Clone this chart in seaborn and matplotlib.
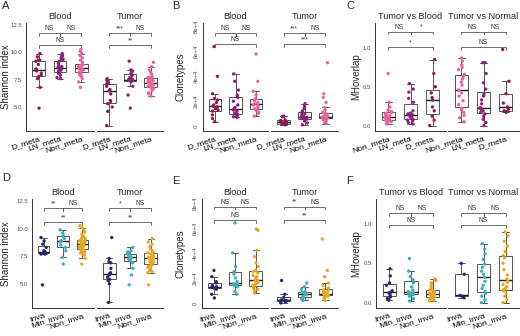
"""Diversity / clonotype / MH overlap boxplots by metastasis and invasion group."""

import matplotlib
matplotlib.use("Agg")
import matplotlib.pyplot as plt
import numpy as np
import pandas as pd
import seaborn as sns

META = ["D_meta", "LN_meta", "Non_meta"]
META_C = ["Non_meta", "LN_meta", "D_meta"]
INVA = ["Inva", "Min_inva", "Non_inva"]

META_COLORS = {"D_meta": "#8c1c4f", "LN_meta": "#8e1f80", "Non_meta": "#e8649a"}
INVA_COLORS = {"Inva": "#26286f", "Min_inva": "#3bafba", "Non_inva": "#e5a823"}

# ---- panel A: Shannon index by metastasis
a_blood = {
    "D_meta": [4.9, 6.8, 7.6, 7.8, 7.9, 8.1, 8.3, 8.4, 8.5, 8.9, 9.2, 9.3, 9.3, 9.6, 9.9],
    "LN_meta": [7.6, 7.7, 7.9, 8.1, 8.2, 8.3, 8.4, 8.5, 8.6, 8.6, 8.7, 8.8, 9.0, 9.2, 9.3, 9.4, 9.5, 9.7, 9.9],
    "Non_meta": [6.8, 7.3, 7.6, 7.8, 7.9, 8.0, 8.1, 8.1, 8.2, 8.2, 8.3, 8.4, 8.4, 8.5, 8.5, 8.6, 8.6,
                 8.6, 8.7, 8.7, 8.8, 8.8, 8.9, 8.9, 9.0, 9.1, 9.3, 9.5, 9.7, 9.9, 10.1, 10.3],
}
a_tumor = {
    "D_meta": [3.3, 4.6, 5.0, 5.3, 5.5, 5.6, 6.2, 6.5, 6.6, 6.9, 7.1, 7.2, 7.4, 7.5, 7.6],
    "LN_meta": [4.9, 6.1, 6.9, 7.3, 7.4, 7.4, 7.5, 7.5, 7.5, 7.6, 7.7, 7.9, 8.0, 8.1, 8.3, 8.4, 9.2],
    "Non_meta": [6.0, 6.2, 6.3, 6.5, 6.6, 6.7, 6.7, 6.8, 6.9, 7.0, 7.0, 7.1, 7.2, 7.2, 7.2, 7.3, 7.3,
                 7.4, 7.5, 7.5, 7.6, 7.7, 7.7, 7.8, 8.0, 8.2, 8.4, 8.7, 9.1],
}

# ---- panel B: clonetypes by metastasis
b_blood = {
    "D_meta": [3500, 6000, 9000, 12000, 13000, 14000, 15500, 16000, 17000, 19000, 21000, 22000, 26000, 40000, 64000],
    "LN_meta": [7000, 7500, 8000, 9000, 10000, 10500, 12000, 13000, 14000, 15000, 17000, 20000, 23000,
                25000, 29000, 36000, 42000],
    "Non_meta": [8000, 10000, 11000, 12500, 13000, 14000, 15000, 16000, 17000, 17500, 18000, 19000, 20000,
                 21000, 22000, 25000, 28000, 36000, 58000],
}
b_tumor = {
    "D_meta": [1000, 1500, 2000, 2000, 2500, 3000, 3000, 3500, 4000, 4500, 5000, 7500, 8000],
    "LN_meta": [1000, 2500, 4000, 5500, 6000, 6500, 7000, 7000, 7500, 8000, 9000, 10000, 11000, 12000,
                14000, 16000, 18000],
    "Non_meta": [2000, 3000, 4000, 5000, 5500, 6000, 6000, 6500, 6500, 7000, 7000, 7000, 7500, 7500, 8000,
                 8500, 9000, 9500, 10000, 11000, 13000, 15000, 19000, 23000, 26000, 51000],
}

# ---- panel C: MH overlap by metastasis
c_tvb = {
    "Non_meta": [0.02, 0.04, 0.05, 0.06, 0.07, 0.07, 0.08, 0.09, 0.10, 0.10, 0.11, 0.12, 0.13, 0.15, 0.16,
                 0.17, 0.18, 0.20, 0.24, 0.30, 0.67],
    "LN_meta": [0.02, 0.04, 0.06, 0.07, 0.08, 0.10, 0.11, 0.12, 0.13, 0.14, 0.15, 0.16, 0.19, 0.30, 0.35,
                0.43, 0.47, 0.54],
    "D_meta": [0.0, 0.07, 0.12, 0.19, 0.24, 0.33, 0.36, 0.42, 0.50, 0.67, 0.85],
}
c_tvn = {
    "Non_meta": [0.05, 0.10, 0.13, 0.17, 0.20, 0.22, 0.27, 0.32, 0.38, 0.42, 0.45, 0.46, 0.52, 0.56, 0.60,
                 0.63, 0.66, 0.72, 0.75, 0.78, 0.83, 0.87],
    "LN_meta": [0.0, 0.04, 0.08, 0.12, 0.15, 0.17, 0.19, 0.21, 0.22, 0.23, 0.28, 0.33, 0.38, 0.40, 0.47,
                0.55, 0.67, 0.81, 0.81],
    "D_meta": [0.17, 0.18, 0.19, 0.21, 0.24, 0.29, 0.41, 0.57, 0.98],
}

# ---- panel D: Shannon index by invasion
d_blood = {
    "Inva": [4.9, 7.7, 7.7, 7.8, 7.8, 7.9, 8.0, 8.3, 8.6, 8.9, 9.2],
    "Min_inva": [6.8, 7.4, 8.0, 8.3, 8.5, 8.8, 8.9, 8.9, 9.1, 9.3, 9.4, 9.6, 9.9],
    "Non_inva": [6.8, 7.3, 7.6, 7.7, 7.8, 7.9, 8.0, 8.1, 8.1, 8.2, 8.2, 8.3, 8.3, 8.4, 8.4, 8.5, 8.5, 8.6,
                 8.6, 8.6, 8.7, 8.7, 8.8, 8.8, 8.9, 8.9, 9.0, 9.0, 9.1, 9.2, 9.3, 9.5, 9.7, 9.9, 10.1, 10.3],
}
d_tumor = {
    "Inva": [3.3, 5.0, 5.3, 5.4, 5.6, 5.8, 5.9, 6.0, 6.4, 6.9, 7.0, 7.3, 9.2],
    "Min_inva": [4.9, 5.8, 6.4, 6.9, 7.1, 7.2, 7.3, 7.4, 7.4, 7.5, 7.6, 7.7, 7.8, 7.9, 8.0, 8.3],
    "Non_inva": [4.9, 6.0, 6.1, 6.2, 6.4, 6.5, 6.6, 6.7, 6.8, 6.9, 7.0, 7.0, 7.1, 7.2, 7.2, 7.3, 7.3, 7.4,
                 7.4, 7.5, 7.5, 7.6, 7.7, 7.8, 7.8, 7.9, 8.0, 8.2, 8.4, 8.6, 8.8, 9.1],
}

# ---- panel E: clonetypes by invasion
e_blood = {
    "Inva": [4000, 7000, 11000, 12000, 12500, 13000, 13000, 14000, 16000, 17000, 21000, 26000],
    "Min_inva": [7000, 9000, 13000, 14000, 14500, 15000, 15500, 17000, 20000, 23000, 25000, 29000, 40000, 64000],
    "Non_inva": [8000, 9000, 10000, 11000, 12000, 13000, 13000, 14000, 15000, 16000, 17000, 17500, 18000,
                 18000, 19000, 20000, 21000, 22000, 24000, 25000, 26000, 29000, 32000, 37000, 42000, 58000, 59000],
}
e_tumor = {
    "Inva": [0, 1000, 1500, 2000, 2000, 2500, 4500, 7000, 18000],
    "Min_inva": [2000, 3000, 4000, 4000, 5500, 6500, 7000, 7000, 7500, 8000, 8500, 9000, 11000, 13000, 16000],
    "Non_inva": [2000, 3000, 4000, 5000, 5500, 6000, 6000, 6500, 6500, 7000, 7000, 7000, 7500, 8000, 8500,
                 9000, 10000, 10500, 12000, 14000, 16000, 21000, 26000, 51000],
}

# ---- panel F: MH overlap by invasion
f_tvb = {
    "Inva": [0.03, 0.05, 0.07, 0.09, 0.12, 0.13, 0.15, 0.22, 0.25, 0.34, 0.43],
    "Min_inva": [0.02, 0.05, 0.08, 0.10, 0.11, 0.12, 0.13, 0.14, 0.16, 0.20, 0.25, 0.29, 0.33, 0.40, 0.56],
    "Non_inva": [0.02, 0.03, 0.04, 0.05, 0.06, 0.06, 0.07, 0.08, 0.09, 0.10, 0.10, 0.11, 0.11, 0.12, 0.13,
                 0.14, 0.15, 0.16, 0.17, 0.19, 0.22, 0.25, 0.28, 0.30],
}
f_tvn = {
    "Inva": [0.06, 0.08, 0.09, 0.36, 0.50],
    "Min_inva": [0.0, 0.03, 0.08, 0.12, 0.14, 0.18, 0.22, 0.27, 0.32, 0.36, 0.40, 0.45, 0.49, 0.55, 0.62,
                 0.68, 0.75],
    "Non_inva": [0.0, 0.04, 0.08, 0.12, 0.15, 0.16, 0.18, 0.20, 0.23, 0.26, 0.27, 0.30, 0.35, 0.42, 0.50,
                 0.57, 0.60, 0.65, 0.72, 0.78, 0.85, 0.90],
}

# significance labels: (1-2, 2-3, 1-3)
sig_a = [["NS", "NS", "NS"], ["***", "NS", "**"]]
sig_b = [["NS", "NS", "NS"], ["***", "NS", "***"]]
sig_c = [["NS", "*", "*"], ["NS", "NS", "NS"]]
sig_d = [["**", "NS", "**"], ["*", "NS", "**"]]
sig_e = [["NS", "NS", "NS"], ["**", "NS", "**"]]
sig_f = [["NS", "NS", "NS"], ["NS", "NS", "NS"]]

W, H = 520, 336


def rect(x0, x1, y0, y1):
    return [x0 / W, 1 - y1 / H, (x1 - x0) / W, (y1 - y0) / H]


def facet(ax, data, order, colors, title, ylim, levels, sigs, first):
    df = pd.DataFrame([(g, v) for g in order for v in data[g]], columns=["group", "value"])
    sns.boxplot(data=df, x="group", y="value", order=order, color="white", linecolor="#555555",
                linewidth=0.7, width=0.6, showfliers=False, ax=ax,
                medianprops={"color": "#1a1a1a", "linewidth": 1.0})
    sns.stripplot(data=df, x="group", y="value", order=order, hue="group", hue_order=order,
                  palette=colors, size=2.4, jitter=0.15, legend=False, ax=ax, zorder=3)
    ax.set_ylim(*ylim)
    ax.set_xlim(-0.6, 2.6)
    ax.set_title(title, fontsize=6.6, pad=3)
    ax.set_xlabel("")
    ax.set_ylabel("")
    ax.set_xticks(range(3))
    ax.set_xticklabels(order, rotation=18, ha="right", rotation_mode="anchor", fontsize=6.1)
    ax.tick_params(axis="x", length=1.8, width=0.6, pad=1.2, colors="#333333", labelcolor="black")
    for s in ["top", "right"]:
        ax.spines[s].set_visible(False)
    ax.spines["bottom"].set_color("#333333")
    ax.spines["bottom"].set_linewidth(0.7)
    if first:
        ax.spines["left"].set_color("#333333")
        ax.spines["left"].set_linewidth(0.7)
        ax.tick_params(axis="y", length=2, width=0.6, pad=1, labelsize=4.3, labelcolor="#4d4d4d")
    else:
        ax.spines["left"].set_visible(False)
        ax.tick_params(axis="y", left=False, labelleft=False)
    # significance brackets
    top, low = levels
    h = (ylim[1] - ylim[0]) * 0.025
    for (i, j), y, lab in [((0, 1), top, sigs[0]), ((1, 2), top, sigs[1]), ((0, 2), low, sigs[2])]:
        ax.plot([i, i, j, j], [y - h, y, y, y - h], color="#555555", lw=0.6, clip_on=False)
        ax.text((i + j) / 2, y + h * 0.3, lab, ha="center", va="bottom", fontsize=4.8, color="#333333")


sns.set_theme(style="white")
plt.rcParams["font.family"] = ["Liberation Sans", "DejaVu Sans"]
np.random.seed(3)
fig = plt.figure(figsize=(W / 100, H / 100), dpi=100)

shannon_lim = (2.8, 12.7)
clone_lim = (-4000, 83000)
mh_lim = (-0.07, 1.32)

panels = [
    ("A", a_blood, a_tumor, META, META_COLORS, ["Blood", "Tumor"], shannon_lim, (11.8, 10.7), sig_a,
     (26, 94, 97, 163), (23, 131), "Shannon index", (2, 6), 11),
    ("B", b_blood, b_tumor, META, META_COLORS, ["Blood", "Tumor"], clone_lim, (75000, 66000), sig_b,
     (203, 268, 271, 338), (23, 131), "Clonetypes", (172, 6), 186),
    ("C", c_tvb, c_tvn, META_C, META_COLORS, ["Tumor vs Blood", "Tumor vs Normal"], mh_lim, (1.21, 1.01), sig_c,
     (375, 446, 448, 519), (23, 131), "MHoverlap", (346, 6), 361),
    ("D", d_blood, d_tumor, INVA, INVA_COLORS, ["Blood", "Tumor"], shannon_lim, (11.9, 10.6), sig_d,
     (32, 94, 97, 163), (199, 308), "Shannon index", (2, 178), 11),
    ("E", e_blood, e_tumor, INVA, INVA_COLORS, ["Blood", "Tumor"], clone_lim, (77000, 66000), sig_e,
     (202, 268, 271, 338), (199, 308), "Clonetypes", (172, 181), 186),
    ("F", f_tvb, f_tvn, INVA, INVA_COLORS, ["Tumor vs Blood", "Tumor vs Normal"], mh_lim, (1.14, 0.99), sig_f,
     (376, 446, 448, 519), (199, 308), "MHoverlap", (346, 181), 361),
]

for letter, d1, d2, order, colors, titles, ylim, levels, sigs, xs, ys, ylabel, lpos, labx in panels:
    ax1 = fig.add_axes(rect(xs[0], xs[1], ys[0], ys[1]))
    ax2 = fig.add_axes(rect(xs[2], xs[3], ys[0], ys[1]))
    facet(ax1, d1, order, colors, titles[0], ylim, levels, sigs[0], True)
    facet(ax2, d2, order, colors, titles[1], ylim, levels, sigs[1], False)
    if ylabel == "Shannon index":
        ax1.set_yticks([5.0, 7.5, 10.0, 12.5])
        ax1.set_yticklabels(["5.0", "7.5", "10.0", "12.5"])
    elif ylabel == "Clonetypes":
        ax1.set_yticks([0, 20000, 40000, 60000, 80000])
        ax1.set_yticklabels(["0", "2e+4", "4e+4", "6e+4", "8e+4"], rotation=90, va="center")
    else:
        ax1.set_yticks([0.0, 0.5, 1.0])
        ax1.set_yticklabels(["0.0", "0.5", "1.0"])
    ax1.set_ylabel(ylabel, fontsize=7)
    ax1.yaxis.set_label_coords(labx / W, 1 - (ys[0] + ys[1]) / 2 / H, transform=fig.transFigure)
    fig.text(lpos[0] / W, 1 - lpos[1] / H, letter, fontsize=8, va="center", ha="left")

fig.savefig("out.png", dpi=100)
